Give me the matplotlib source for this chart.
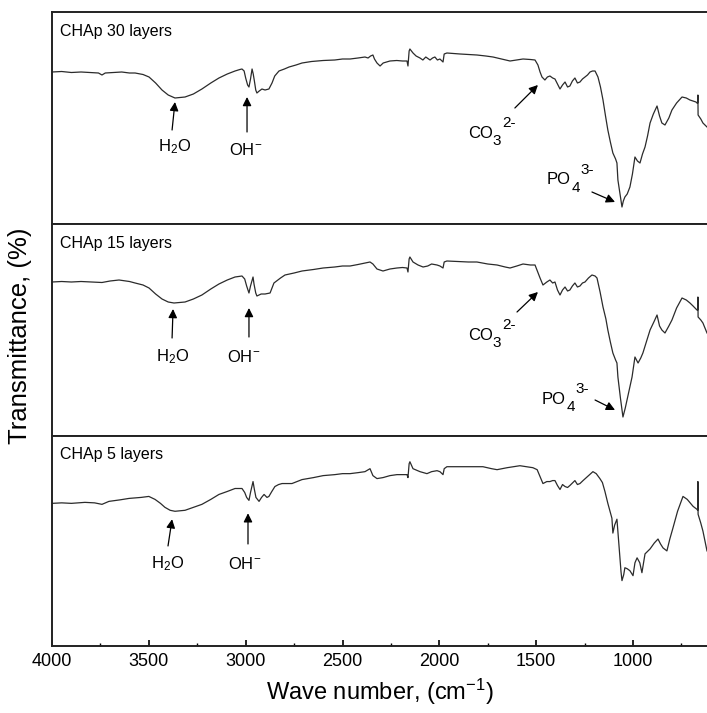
import matplotlib
matplotlib.use("Agg")
import matplotlib.pyplot as plt
from matplotlib.ticker import MultipleLocator

plt.rcParams['font.family'] = ['Liberation Sans', 'DejaVu Sans']
plt.rcParams['mathtext.fontset'] = 'custom'
plt.rcParams['mathtext.rm'] = 'Liberation Sans'
plt.rcParams['mathtext.it'] = 'Liberation Sans:italic'
plt.rcParams['mathtext.bf'] = 'Liberation Sans:bold'

# ---- data (wavenumber cm^-1, transmittance in arbitrary units) ----
wn_30 = [4000, 3950, 3900, 3850, 3800, 3760, 3742, 3725, 3680, 3640, 3600, 3571, 3530, 3499, 3465, 3432, 3400,
         3365, 3340, 3313, 3270, 3226, 3180, 3138, 3095, 3055, 3030, 3019, 3008, 3000, 2990, 2983, 2975, 2967,
         2961, 2955, 2948, 2942, 2930, 2916, 2900, 2880, 2864, 2850, 2828, 2800, 2776, 2740, 2709, 2660, 2600,
         2540, 2500, 2461, 2420, 2384, 2368, 2355, 2343, 2335, 2322, 2306, 2290, 2255, 2220, 2190, 2167, 2162,
         2156, 2152, 2136, 2120, 2100, 2085, 2070, 2048, 2035, 2023, 2010, 1997, 1981, 1975, 1961, 1930, 1893,
         1850, 1806, 1760, 1723, 1680, 1635, 1600, 1568, 1530, 1506, 1491, 1480, 1470, 1455, 1442, 1429, 1415,
         1403, 1390, 1377, 1364, 1351, 1338, 1326, 1313, 1300, 1287, 1274, 1261, 1248, 1235, 1222, 1209, 1196,
         1181, 1168, 1155, 1142, 1130, 1117, 1104, 1090, 1083, 1078, 1065, 1057, 1050, 1042, 1030, 1016, 1003,
         990, 977, 964, 951, 938, 925, 912, 895, 876, 863, 851, 835, 815, 799, 775, 747, 725, 706, 690, 675, 670,
         666, 665, 664, 650, 639, 618]
t_30 = [152, 152.5, 151.5, 152, 151.5, 151, 149, 151, 151.5, 152, 151, 151, 149.5, 147, 141, 134, 129,
        126, 126.5, 127, 130, 135, 141, 146, 150, 153, 154.5, 155, 153, 146, 139, 137, 145, 155,
        150, 143, 134, 131, 133, 135, 134, 135, 141, 148, 153, 155, 157, 159, 161, 162.5, 163.5,
        164, 165, 165, 166, 167, 166, 168, 169, 165, 161, 158, 161, 163, 163.5, 163, 163, 158,
        173, 175, 171, 168, 166, 164, 167, 164, 166, 167, 164, 165, 162, 170, 171, 170.5, 170,
        169.5, 169, 168, 167, 165, 163, 164, 165, 164.5, 164, 159, 152, 147, 144, 147, 148, 146,
        145, 140, 135, 139, 142, 137, 138, 143, 146, 141, 142, 145, 147, 149, 152, 153, 153,
        147, 137, 124, 108, 94, 82, 71, 65, 61, 44, 27, 17, 23, 27, 30, 37, 50,
        67, 63, 61, 70, 77, 88, 101, 110, 118, 108, 101, 99, 106, 114, 121, 127, 126, 124, 123, 122, 121,
        121, 129, 109, 105, 101, 97]

wn_15 = [4000, 3950, 3900, 3850, 3800, 3742, 3700, 3654, 3600, 3571, 3530, 3499, 3465, 3432, 3400, 3370, 3340,
         3313, 3270, 3226, 3180, 3138, 3095, 3055, 3019, 3005, 2995, 2983, 2975, 2962, 2957, 2948, 2942, 2920,
         2900, 2874, 2854, 2820, 2797, 2750, 2709, 2650, 2600, 2540, 2500, 2461, 2420, 2384, 2358, 2343, 2322,
         2291, 2255, 2219, 2190, 2167, 2162, 2156, 2152, 2136, 2110, 2084, 2060, 2040, 2012, 1997, 1981, 1975,
         1961, 1900, 1850, 1806, 1750, 1702, 1660, 1635, 1600, 1568, 1530, 1506, 1480, 1465, 1445, 1429, 1415,
         1403, 1390, 1377, 1364, 1351, 1338, 1326, 1313, 1300, 1287, 1274, 1261, 1248, 1230, 1212, 1196, 1186,
         1170, 1155, 1140, 1130, 1117, 1104, 1090, 1083, 1078, 1065, 1052, 1040, 1031, 1018, 1005, 990, 974,
         960, 949, 930, 912, 890, 876, 863, 851, 835, 815, 799, 775, 747, 725, 706, 690, 670, 666, 665, 664,
         650, 639, 618]
t_15 = [154, 154.5, 154, 154.5, 154, 153.5, 155, 156, 154.5, 153, 151, 148, 142, 137, 134, 133, 133.5,
        134, 137, 141, 147, 152, 156, 159, 160, 157, 150, 143, 150, 159, 152, 143, 140, 142,
        142, 143, 153, 158, 161, 163, 165, 166.5, 168, 169, 170, 170, 171.5, 173, 174, 172, 167,
        165, 167, 168, 168.5, 168, 164, 177, 179, 174, 171, 169, 170, 172, 171, 170, 168, 174,
        175, 174.5, 174, 174, 172, 171, 169, 168, 170, 172, 171, 171, 158, 151, 154, 156, 153,
        154, 146, 141, 146, 149, 145, 146, 150, 153, 149, 150, 153, 154, 158, 161, 160, 158,
        144, 129, 117, 106, 94, 83, 76, 73, 59, 38, 19, 28, 36, 48, 59, 79, 73,
        78, 83, 95, 106, 115, 121, 110, 106, 103, 110, 116, 128, 138, 136, 133, 130, 126, 126, 139, 119,
        116, 113, 103]

wn_5 = [4000, 3950, 3900, 3830, 3780, 3742, 3706, 3650, 3602, 3540, 3500, 3468, 3440, 3417, 3390, 3365, 3313,
        3270, 3226, 3180, 3138, 3095, 3055, 3019, 3005, 2995, 2983, 2975, 2962, 2955, 2947, 2931, 2918, 2905,
        2890, 2880, 2865, 2849, 2830, 2812, 2761, 2709, 2650, 2600, 2540, 2500, 2461, 2420, 2384, 2358, 2343,
        2322, 2291, 2255, 2219, 2190, 2167, 2162, 2156, 2152, 2136, 2100, 2064, 2040, 2012, 1997, 1981, 1975,
        1961, 1900, 1850, 1775, 1730, 1702, 1650, 1584, 1550, 1517, 1495, 1480, 1465, 1445, 1429, 1415, 1403,
        1390, 1377, 1364, 1351, 1338, 1326, 1300, 1287, 1274, 1258, 1230, 1207, 1190, 1171, 1158, 1145, 1130,
        1120, 1109, 1104, 1095, 1083, 1073, 1062, 1057, 1048, 1042, 1030, 1016, 1000, 990, 979, 965, 954, 938,
        912, 890, 871, 858, 845, 825, 810, 794, 770, 742, 720, 690, 670, 666, 665, 664, 650, 639, 618]
t_5 = [144, 144.5, 144, 145, 144.5, 143, 146, 147.5, 149, 150, 151, 148, 144, 140, 137, 136, 137,
       140, 143, 148, 153, 156, 159, 159, 155, 150, 147, 155, 166, 158, 150, 146, 150, 153,
       150, 151, 156, 161, 163, 164, 164, 168, 170, 172, 173, 174, 174, 175, 176, 179, 172,
       169, 170, 172, 173, 173, 173, 170, 184, 186, 179, 176, 174, 176, 177, 176, 173, 179,
       181, 181, 181, 181, 179, 178, 180, 182, 181, 180, 178, 171, 164, 166, 166, 167, 167,
       162, 158, 163, 161, 160, 162, 167, 163, 164, 167, 172, 176, 174, 169, 165, 156, 144,
       137, 129, 114, 122, 128, 103, 75, 66, 72, 79, 78, 76, 71, 84, 89, 84, 74, 93,
       98, 104, 108, 103, 99, 96, 108, 119, 136, 151, 148, 141, 138, 137, 166, 133, 124, 116, 96]

panel_labels = ["CHAp 30 layers", "CHAp 15 layers", "CHAp 5 layers"]
series = [(wn_30, t_30), (wn_15, t_15), (wn_5, t_5)]
xticks = [4000, 3500, 3000, 2500, 2000, 1500, 1000]

W, H = 707, 713
fig = plt.figure(figsize=(W / 100, H / 100), dpi=100)
left = 52 / W
panels_px = [(12, 224), (224, 436), (436, 646)]
axes = []
for (top, bot) in panels_px:
    ax = fig.add_axes([left, (H - bot) / H, 1.0 - left, (bot - top) / H])
    axes.append(ax)

line_color = '#2b2b2b'
for ax, (wn, t), lab in zip(axes, series, panel_labels):
    ax.plot(wn, t, color=line_color, lw=0.9)
    ax.set_xlim(4000, 618)
    ax.set_ylim(0, 212)
    ax.set_yticks([])
    ax.spines['right'].set_visible(False)
    for s in ['left', 'top', 'bottom']:
        ax.spines[s].set_linewidth(1.4)
        ax.spines[s].set_color('#222222')
    ax.text(0.012, 0.91, lab, transform=ax.transAxes, fontsize=11.5, ha='left', va='center')

for ax in axes[:2]:
    ax.tick_params(axis='x', which='both', bottom=False, labelbottom=False)

axb = axes[2]
axb.set_xticks(xticks)
axb.xaxis.set_minor_locator(MultipleLocator(250))
axb.tick_params(axis='x', which='major', direction='in', length=4, width=1.2, labelsize=13, pad=5)
axb.tick_params(axis='x', which='minor', direction='in', length=2.5, width=1.0)

ann_fs = 12
arrow = dict(arrowstyle='-|>', color='black', lw=0.9, mutation_scale=13, shrinkA=0, shrinkB=0)


def ion_label(ax, x, y, base, sub, sup, sub_dx, sup_dx):
    ax.text(x, y, base, fontsize=ann_fs, ha='left', va='center')
    ax.annotate(sub, xy=(x, y), xycoords='data', xytext=(sub_dx, -5.5), textcoords='offset points',
                fontsize=11, ha='left', va='center')
    ax.annotate(sup, xy=(x, y), xycoords='data', xytext=(sup_dx, 7.5), textcoords='offset points',
                fontsize=11, ha='left', va='center')


# top panel
a = axes[0]
a.annotate('', xy=(3365, 122), xytext=(3380, 94), arrowprops=arrow)
a.text(3365, 77, 'H$_2$O', fontsize=ann_fs, ha='center', va='center')
a.annotate('', xy=(2993, 127), xytext=(2993, 92), arrowprops=arrow)
a.text(2998, 74, 'OH$^{-}$', fontsize=ann_fs, ha='center', va='center')
a.annotate('', xy=(1491, 139), xytext=(1610, 116), arrowprops=arrow)
ion_label(a, 1852, 91, 'CO', '3', '2-', 17.5, 24.5)
a.annotate('', xy=(1093, 22), xytext=(1212, 32), arrowprops=arrow)
ion_label(a, 1444, 44, 'PO', '4', '3-', 18.0, 24.0)

# middle panel
a = axes[1]
a.annotate('', xy=(3375, 127), xytext=(3380, 98), arrowprops=arrow)
a.text(3380, 79, 'H$_2$O', fontsize=ann_fs, ha='center', va='center')
a.annotate('', xy=(2983, 128), xytext=(2983, 99), arrowprops=arrow)
a.text(3010, 79, 'OH$^{-}$', fontsize=ann_fs, ha='center', va='center')
a.annotate('', xy=(1491, 144), xytext=(1599, 124), arrowprops=arrow)
ion_label(a, 1852, 101, 'CO', '3', '2-', 17.5, 24.5)
a.annotate('', xy=(1093, 26), xytext=(1196, 36), arrowprops=arrow)
ion_label(a, 1470, 37, 'PO', '4', '3-', 18.0, 24.0)

# bottom panel
a = axes[2]
a.annotate('', xy=(3380, 128), xytext=(3401, 101), arrowprops=arrow)
a.text(3401, 83, 'H$_2$O', fontsize=ann_fs, ha='center', va='center')
a.annotate('', xy=(2988, 134), xytext=(2988, 103), arrowprops=arrow)
a.text(3004, 83, 'OH$^{-}$', fontsize=ann_fs, ha='center', va='center')

fig.text(0.028, 0.529, 'Transmittance, (%)', rotation=90, fontsize=18.5, ha='center', va='center')
fig.text(0.537, 0.03, 'Wave number, (cm$^{-1}$)', fontsize=17, ha='center', va='center')

fig.savefig('out.png', dpi=100, facecolor='white')
